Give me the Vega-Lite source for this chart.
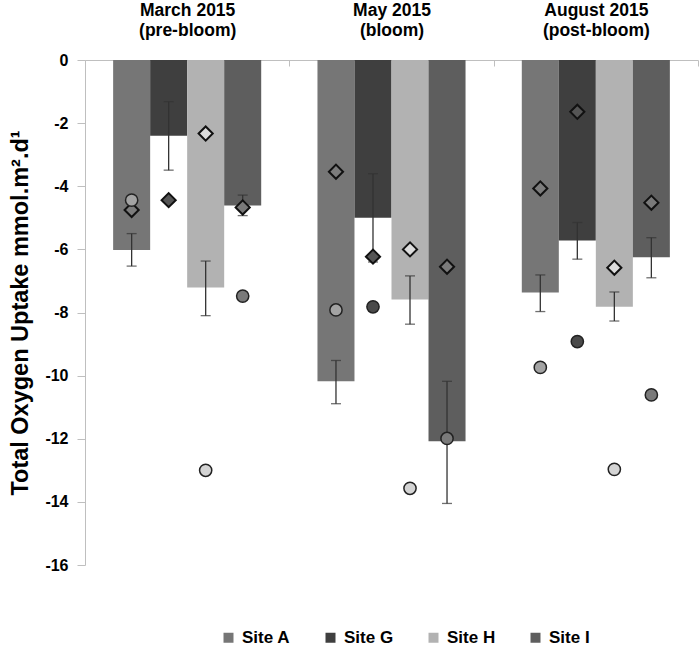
{
  "$schema": "https://vega.github.io/schema/vega-lite/v6.json",
  "width": 613,
  "height": 505,
  "autosize": {"type": "none"},
  "padding": {"left": 85, "top": 60, "right": 1, "bottom": 82},
  "background": "white",
  "config": {"view": {"stroke": null}, "font": "Liberation Sans"},
  "data": {
    "values": [
      {"month": "March 2015|(pre-bloom)", "site": "Site A", "mean": -6.02, "errTop": -5.50, "errBottom": -6.53, "diamond": -4.75, "circle": -4.44},
      {"month": "March 2015|(pre-bloom)", "site": "Site G", "mean": -2.40, "errTop": -1.32, "errBottom": -3.49, "diamond": -4.44, "circle": null},
      {"month": "March 2015|(pre-bloom)", "site": "Site H", "mean": -7.21, "errTop": -6.37, "errBottom": -8.10, "diamond": -2.33, "circle": -13.0},
      {"month": "March 2015|(pre-bloom)", "site": "Site I", "mean": -4.61, "errTop": -4.28, "errBottom": -4.93, "diamond": -4.67, "circle": -7.48},
      {"month": "May 2015|(bloom)", "site": "Site A", "mean": -10.18, "errTop": -9.52, "errBottom": -10.89, "diamond": -3.54, "circle": -7.92},
      {"month": "May 2015|(bloom)", "site": "Site G", "mean": -5.00, "errTop": -3.60, "errBottom": -6.40, "diamond": -6.23, "circle": -7.82},
      {"month": "May 2015|(bloom)", "site": "Site H", "mean": -7.59, "errTop": -6.84, "errBottom": -8.37, "diamond": -6.00, "circle": -13.57},
      {"month": "May 2015|(bloom)", "site": "Site I", "mean": -12.08, "errTop": -10.18, "errBottom": -14.05, "diamond": -6.55, "circle": -11.99},
      {"month": "August 2015|(post-bloom)", "site": "Site A", "mean": -7.37, "errTop": -6.81, "errBottom": -7.97, "diamond": -4.07, "circle": -9.74},
      {"month": "August 2015|(post-bloom)", "site": "Site G", "mean": -5.72, "errTop": -5.15, "errBottom": -6.31, "diamond": -1.64, "circle": -8.92},
      {"month": "August 2015|(post-bloom)", "site": "Site H", "mean": -7.82, "errTop": -7.35, "errBottom": -8.27, "diamond": -6.58, "circle": -12.97},
      {"month": "August 2015|(post-bloom)", "site": "Site I", "mean": -6.25, "errTop": -5.63, "errBottom": -6.90, "diamond": -4.52, "circle": -10.61}
    ]
  },
  "encoding": {
    "x": {
      "field": "month", "type": "nominal",
      "sort": ["March 2015|(pre-bloom)", "May 2015|(bloom)", "August 2015|(post-bloom)"],
      "scale": {"paddingInner": 0, "paddingOuter": 0},
      "axis": {
        "orient": "top", "title": null, "labelAngle": 0,
        "labelExpr": "split(datum.label, '|')",
        "labelFont": "Liberation Sans", "labelFontWeight": "bold", "labelFontSize": 17.5,
        "labelLineHeight": 20, "labelColor": "black", "labelPadding": 47,
        "domainColor": "#bfbfbf", "tickColor": "#bfbfbf", "tickBand": "extent", "tickSize": -6
      }
    },
    "xOffset": {"field": "site", "type": "nominal", "sort": ["Site A", "Site G", "Site H", "Site I"], "scale": {"paddingOuter": 0.76, "paddingInner": 0}}
  },
  "layer": [
    {
      "mark": {"type": "bar"},
      "encoding": {
        "y": {
          "field": "mean", "type": "quantitative",
          "scale": {"domain": [-16, 0], "nice": false, "zero": true},
          "axis": {
            "title": "Total Oxygen Uptake mmol.m².d¹",
            "titleFont": "Liberation Sans", "titleFontWeight": "bold", "titleFontSize": 23.5, "titleColor": "black", "titlePadding": 12,
            "values": [-16, -14, -12, -10, -8, -6, -4, -2, 0],
            "labelExpr": "datum.value < 0 ? '-' + abs(datum.value) : '' + datum.value",
            "labelFont": "Liberation Sans", "labelFontWeight": "bold", "labelFontSize": 16, "labelColor": "black", "labelPadding": 9,
            "grid": false, "tickSize": 8, "tickColor": "#bfbfbf", "domainColor": "#bfbfbf"
          }
        },
        "color": {
          "field": "site", "type": "nominal",
          "scale": {"domain": ["Site A", "Site G", "Site H", "Site I"], "range": ["#767676", "#3f3f3f", "#b2b2b2", "#5e5e5e"]},
          "legend": {
            "title": null, "orient": "none", "legendX": 135, "legendY": 569, "direction": "horizontal",
            "symbolType": "square", "symbolSize": 100, "symbolStrokeWidth": 0, "symbolOpacity": 1,
            "labelFont": "Liberation Sans", "labelFontWeight": "bold", "labelFontSize": 17, "labelColor": "black",
            "labelOffset": 5, "columnPadding": 31, "padding": 0
          }
        }
      }
    },
    {
      "mark": {"type": "rule", "color": "#333333", "strokeWidth": 1.3},
      "encoding": {
        "y": {"field": "errTop", "type": "quantitative"},
        "y2": {"field": "errBottom"}
      }
    },
    {
      "mark": {"type": "tick", "color": "#333333", "thickness": 1.3, "size": 10, "orient": "horizontal"},
      "encoding": {"y": {"field": "errTop", "type": "quantitative"}}
    },
    {
      "mark": {"type": "tick", "color": "#333333", "thickness": 1.3, "size": 10, "orient": "horizontal"},
      "encoding": {"y": {"field": "errBottom", "type": "quantitative"}}
    },
    {
      "mark": {"type": "point", "shape": "diamond", "filled": true, "size": 200, "stroke": "#111111", "strokeWidth": 2, "opacity": 1},
      "encoding": {
        "y": {"field": "diamond", "type": "quantitative"},
        "fill": {
          "field": "site", "type": "nominal",
          "scale": {"domain": ["Site A", "Site G", "Site H", "Site I"], "range": ["#7c7c7c", "#555555", "#dcdcdc", "#7a7a7a"]},
          "legend": null
        }
      }
    },
    {
      "mark": {"type": "point", "shape": "circle", "filled": true, "size": 150, "stroke": "#222222", "strokeWidth": 1.5, "opacity": 1},
      "encoding": {
        "y": {"field": "circle", "type": "quantitative"},
        "fill": {
          "field": "site", "type": "nominal",
          "scale": {"domain": ["Site A", "Site G", "Site H", "Site I"], "range": ["#a3a3a3", "#4a4a4a", "#d4d4d4", "#7a7a7a"]},
          "legend": null
        }
      }
    }
  ],
  "resolve": {"scale": {"fill": "independent"}}
}
